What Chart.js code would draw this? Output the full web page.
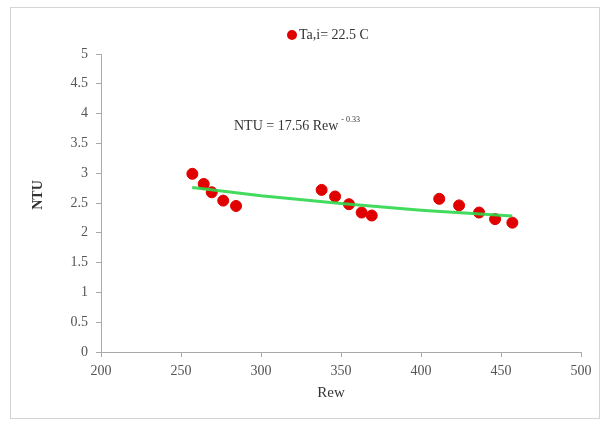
<!DOCTYPE html>
<html>
<head>
<meta charset="utf-8">
<title>NTU vs Rew</title>
<script src="https://cdn.jsdelivr.net/npm/chart.js@4.4.1/dist/chart.umd.min.js"></script>
<style>
  html, body { margin: 0; padding: 0; background: #fff; }
  #wrap { position: relative; width: 605px; height: 423px; }
</style>
</head>
<body>
<div id="wrap"><canvas id="grafica1" width="605" height="423"></canvas></div>
<script>
// measured points
const rew = [257.1, 264.2, 269.2, 276.4, 284.4, 337.9, 346.3, 355.0, 362.9, 369.2, 411.4, 423.8, 436.3, 446.3, 457.1];
const ntu = [2.99, 2.82, 2.68, 2.54, 2.45, 2.72, 2.61, 2.48, 2.34, 2.29, 2.57, 2.46, 2.34, 2.23, 2.17];

// power trend line
const fitRew = [257, 300, 350, 400, 457];
const fitNtu = [2.76, 2.62, 2.49, 2.38, 2.28];

const serieNombre = "Ta,i= 22.5 C";
const ecuacion = "NTU = 17.56 Rew";
const exponente = "- 0.33";

const serif = "'Liberation Serif', 'DejaVu Serif', serif";

const puntos = rew.map((x, i) => ({ x: x, y: ntu[i] }));
const tendencia = fitRew.map((x, i) => ({ x: x, y: fitNtu[i] }));

// frame, legend, equation and axis titles
const extras = {
  id: "extras",
  beforeDraw(chart) {
    const c = chart.ctx;
    c.save();
    c.fillStyle = "#fff";
    c.fillRect(0, 0, chart.width, chart.height);
    c.strokeStyle = "#d4d4d4";
    c.lineWidth = 1;
    c.strokeRect(10.5, 7.5, 589, 411);
    c.restore();
  },
  afterDraw(chart) {
    const c = chart.ctx;
    c.save();
    // legend
    c.fillStyle = "#e00000";
    c.beginPath();
    c.arc(292, 35, 5, 0, Math.PI * 2);
    c.fill();
    c.fillStyle = "#333";
    c.font = "14px " + serif;
    c.textBaseline = "middle";
    c.textAlign = "left";
    c.fillText(serieNombre, 299, 35);

    // equation
    c.font = "14px " + serif;
    c.fillText(ecuacion, 234, 126);
    const w = c.measureText(ecuacion).width;
    c.font = "8px " + serif;
    c.fillText(exponente, 234 + w + 3, 120);

    // axis titles
    c.fillStyle = "#333";
    c.font = "15px " + serif;
    c.textAlign = "center";
    c.fillText("Rew", 331, 393);
    c.translate(38, 195);
    c.rotate(-Math.PI / 2);
    c.font = "bold 14px " + serif;
    c.fillText("NTU", 0, 0);
    c.restore();
  }
};

new Chart(document.getElementById("grafica1"), {
  type: "scatter",
  data: {
    datasets: [
      {
        label: "trend",
        data: tendencia,
        showLine: true,
        borderColor: "rgba(45,215,75,0.9)",
        borderWidth: 3,
        pointRadius: 0,
        fill: false,
        order: 0,
      },
      {
        label: serieNombre,
        data: puntos,
        backgroundColor: "#e00000",
        borderColor: "#e00000",
        pointRadius: 5.5,
        order: 1,
      },
    ],
  },
  options: {
    responsive: false,
    animation: false,
    layout: { padding: { top: 54, right: 24, left: 0, bottom: 0 } },
    plugins: { legend: { display: false }, tooltip: { enabled: false } },
    scales: {
      x: {
        type: "linear",
        min: 200,
        max: 500,
        ticks: { stepSize: 50, color: "#555", padding: 6, font: { family: serif, size: 14 } },
        grid: { drawOnChartArea: false, drawTicks: true, tickLength: 5, color: "#aaa" },
        border: { color: "#aaa" },
        afterFit(s) { s.height = 71; },
      },
      y: {
        min: 0,
        max: 5,
        ticks: {
          stepSize: 0.5,
          color: "#555",
          padding: 8,
          font: { family: serif, size: 14 },
          callback: (v) => String(v),
        },
        grid: { drawOnChartArea: false, drawTicks: true, tickLength: 5, color: "#aaa" },
        border: { color: "#aaa" },
        afterFit(s) { s.width = 101; },
      },
    },
  },
  plugins: [extras],
});
</script>
</body>
</html>
